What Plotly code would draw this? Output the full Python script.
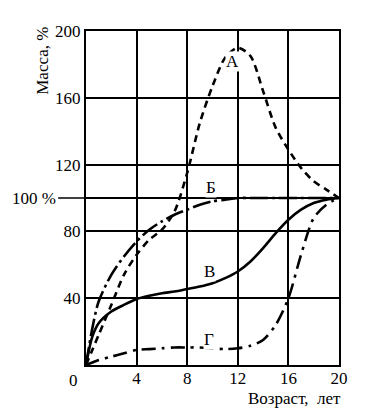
import plotly.graph_objects as go

# ---- data ----
age = [0, 0.5, 1, 2, 3, 4, 5, 6, 7, 8, 9, 10, 11, 12, 13, 14, 15, 16, 17, 18, 19, 20]
mass_A = [0, 9, 18, 36, 54, 66, 75, 81, 92, 115, 145, 167, 184, 190, 185, 164, 142, 129, 118, 110, 105, 100]
mass_B = [0, 22, 38, 54, 65, 74, 81, 86, 90, 93, 96, 98, 99, 100, 100, 100, 100, 100, 100, 100, 100, 100]
mass_V = [0, 17, 25, 32, 36, 39.5, 41.5, 43, 44, 45.5, 47, 49, 52, 56, 62, 70, 79, 87, 93, 97, 99, 100]
mass_G = [0, 1.5, 3, 5, 7, 9, 9.5, 10, 10.5, 10.5, 10.5, 10, 9.5, 10, 11.5, 15, 24, 40, 66, 88, 96, 100]

curve_labels = ["А", "Б", "В", "Г"]
label_x = [11.6, 9.9, 9.8, 9.7]
label_y = [182, 106, 56, 15]

x_ticks = [4, 8, 12, 16, 20]
y_ticks = [40, 80, 120, 160, 200]
ref_level = 100
x_range = [0, 20]
y_range = [0, 200]

FONT = "Liberation Serif, Times New Roman, serif"

fig = go.Figure()

styles = [
    (mass_A, "7px,5px"),
    (mass_B, "18px,4px,3px,4px"),
    (mass_V, "solid"),
    (mass_G, "14px,6px,3px,6px"),
]
for ys, dash in styles:
    fig.add_trace(go.Scatter(
        x=age, y=ys, mode="lines",
        line=dict(color="black", width=2.6, dash=dash, shape="spline", smoothing=0.8),
        showlegend=False, hoverinfo="skip", cliponaxis=False,
    ))

for t, lx, ly in zip(curve_labels, label_x, label_y):
    fig.add_annotation(x=lx, y=ly, text=t, showarrow=False,
                       font=dict(family=FONT, size=17, color="black"),
                       bgcolor="white", borderpad=0)

# 100 % reference line
fig.add_shape(type="line", xref="x", yref="y", x0=x_range[0], x1=x_range[1],
              y0=ref_level, y1=ref_level, line=dict(color="black", width=2), layer="below")
fig.add_shape(type="line", xref="paper", yref="y", x0=-0.11, x1=0,
              y0=ref_level, y1=ref_level, line=dict(color="black", width=1.5))
fig.add_annotation(xref="paper", yref="y", x=-0.11, y=ref_level, text="100 %",
                   showarrow=False, xanchor="right", yanchor="middle",
                   font=dict(family=FONT, size=17, color="black"))

# origin label
fig.add_annotation(xref="paper", yref="paper", x=-0.05, y=-0.012, text="0",
                   showarrow=False, xanchor="center", yanchor="top",
                   font=dict(family=FONT, size=17, color="black"))

# axis titles
fig.add_annotation(xref="paper", yref="paper", x=-0.175, y=0.91, text="Масса, %",
                   textangle=-90, showarrow=False, xanchor="center", yanchor="middle",
                   font=dict(family=FONT, size=17, color="black"))
fig.add_annotation(xref="paper", yref="paper", x=0.823, y=-0.1, text="Возраст,  лет",
                   showarrow=False, xanchor="center", yanchor="middle",
                   font=dict(family=FONT, size=17, color="black"))

fig.update_xaxes(range=x_range, tickvals=x_ticks, ticks="", ticklabelstandoff=-3,
                 showgrid=True, gridcolor="black", gridwidth=2,
                 showline=True, linecolor="black", linewidth=2, mirror=True,
                 zeroline=False, tickfont=dict(family=FONT, size=17, color="black"))
fig.update_yaxes(range=y_range, tickvals=y_ticks, ticks="",
                 showgrid=True, gridcolor="black", gridwidth=2,
                 showline=True, linecolor="black", linewidth=2, mirror=True,
                 zeroline=False, tickfont=dict(family=FONT, size=17, color="black"))

# page body has an 8px margin, so the figure is sized to fit the window
fig.update_layout(width=360, height=401,
                  margin=dict(l=78, r=29, t=23, b=44),
                  plot_bgcolor="white", paper_bgcolor="white")

fig.write_html("out.html")
